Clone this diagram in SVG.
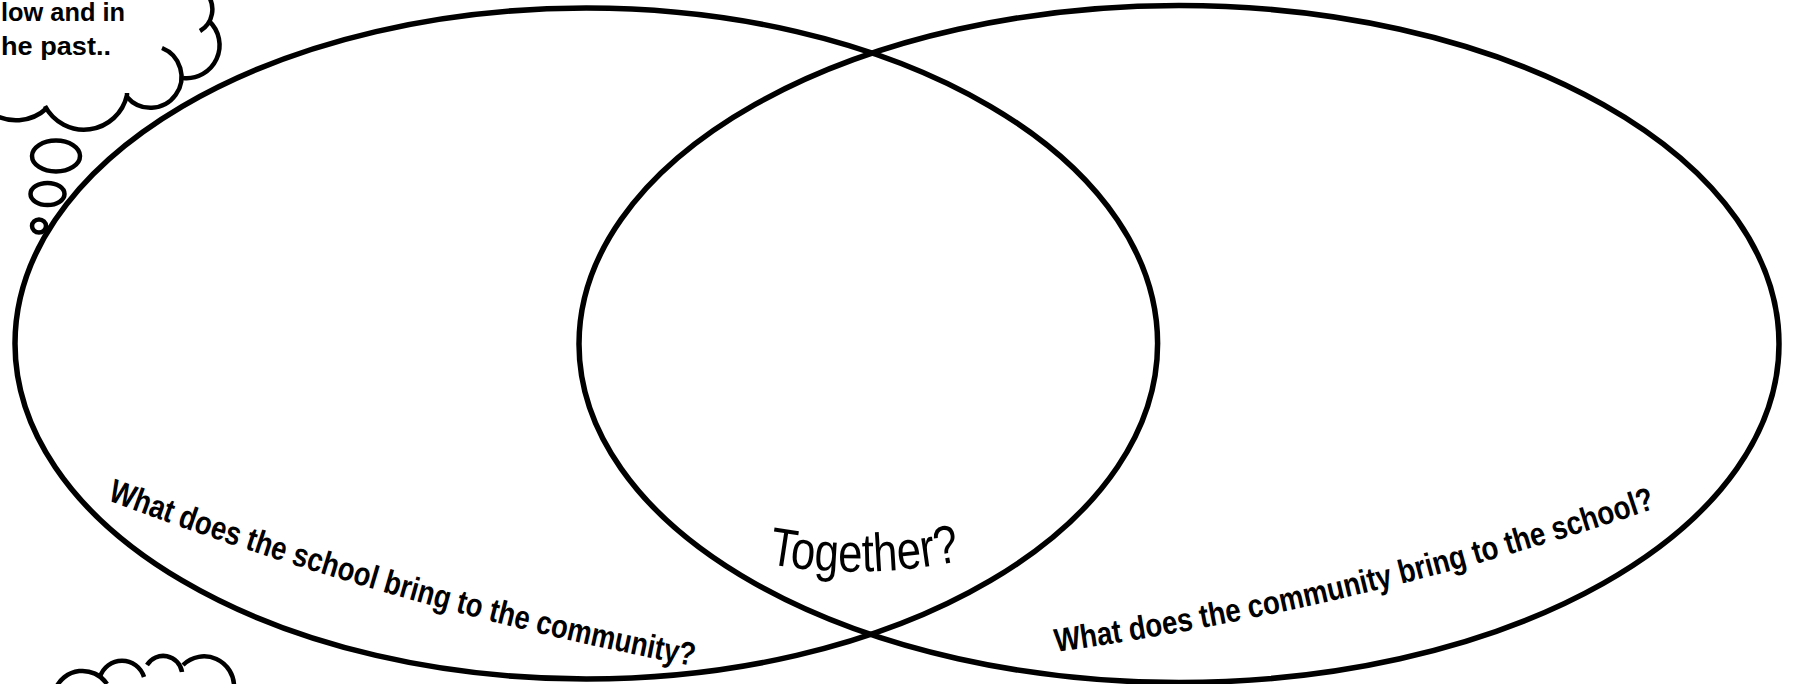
<svg xmlns="http://www.w3.org/2000/svg" width="1798" height="684" viewBox="0 0 1798 684">
<style>
.ring{fill:none;stroke:#000;stroke-width:5.5}
.cloud{fill:none;stroke:#000;stroke-width:4.5}
.lbl{font-family:"Liberation Sans",Arial,sans-serif;font-weight:bold;font-size:33px;fill:#000}
.tog{font-family:"Liberation Sans",Arial,sans-serif;font-size:54px;fill:#000}
.note{font-family:"Liberation Sans",Arial,sans-serif;font-weight:bold;font-size:26px;fill:#000}
</style>
<defs>
<path id="pLeft" d="M107,500 Q402,610.8 697,667"/>
<path id="pRight" d="M1056,652 Q1359,609.5 1662,506"/>
<path id="pTog" d="M768,564 Q866,581 964,560"/>
</defs>
<rect x="0" y="0" width="1798" height="684" fill="#fff"/>
<g id="thought-cloud">
<path class="cloud" d="M207,-6 A25,25 0 0 1 200,31"/>
<path class="cloud" d="M209,21 A33,33 0 0 1 183,78"/>
<path class="cloud" d="M162,48 A31,31 0 1 1 127,97"/>
<path class="cloud" d="M127,93 L127,95 A44,44 0 0 1 45,106"/>
<path class="cloud" d="M47,108 A45,45 0 0 1 -10,112"/>
<ellipse class="cloud" cx="56" cy="156" rx="24" ry="15.5"/>
<ellipse class="cloud" cx="47.5" cy="194" rx="17" ry="11"/>
<ellipse class="cloud" cx="39" cy="226" rx="7" ry="6.5"/>
<text class="note" x="1" y="21" textLength="124" lengthAdjust="spacingAndGlyphs">low and in</text>
<text class="note" x="1" y="55" textLength="110" lengthAdjust="spacingAndGlyphs">he past..</text>
</g>
<g id="cloud-bottom">
<path class="cloud" d="M55,690 A29.4,29.4 0 0 1 107,684"/>
<path class="cloud" d="M100,677 A23,23 0 0 1 144,677"/>
<path class="cloud" d="M147,665 A19,19 0 0 1 182,672"/>
<path class="cloud" d="M183,665 A30,30 0 0 1 234,688"/>
</g>
<g id="venn-left">
<ellipse class="ring" cx="586.3" cy="343.5" rx="571.3" ry="335.5"/>
<text class="lbl"><textPath href="#pLeft" textLength="610" lengthAdjust="spacingAndGlyphs">What does the school bring to the community?</textPath></text>
</g>
<g id="venn-right">
<ellipse class="ring" cx="1179" cy="344" rx="600" ry="338.5"/>
<text class="lbl"><textPath href="#pRight" textLength="618" lengthAdjust="spacingAndGlyphs">What does the community bring to the school?</textPath></text>
</g>
<g id="label-together">
<text class="tog"><textPath href="#pTog" textLength="194" lengthAdjust="spacingAndGlyphs">Together?</textPath></text>
</g>
<g id="connectors"/>
</svg>
